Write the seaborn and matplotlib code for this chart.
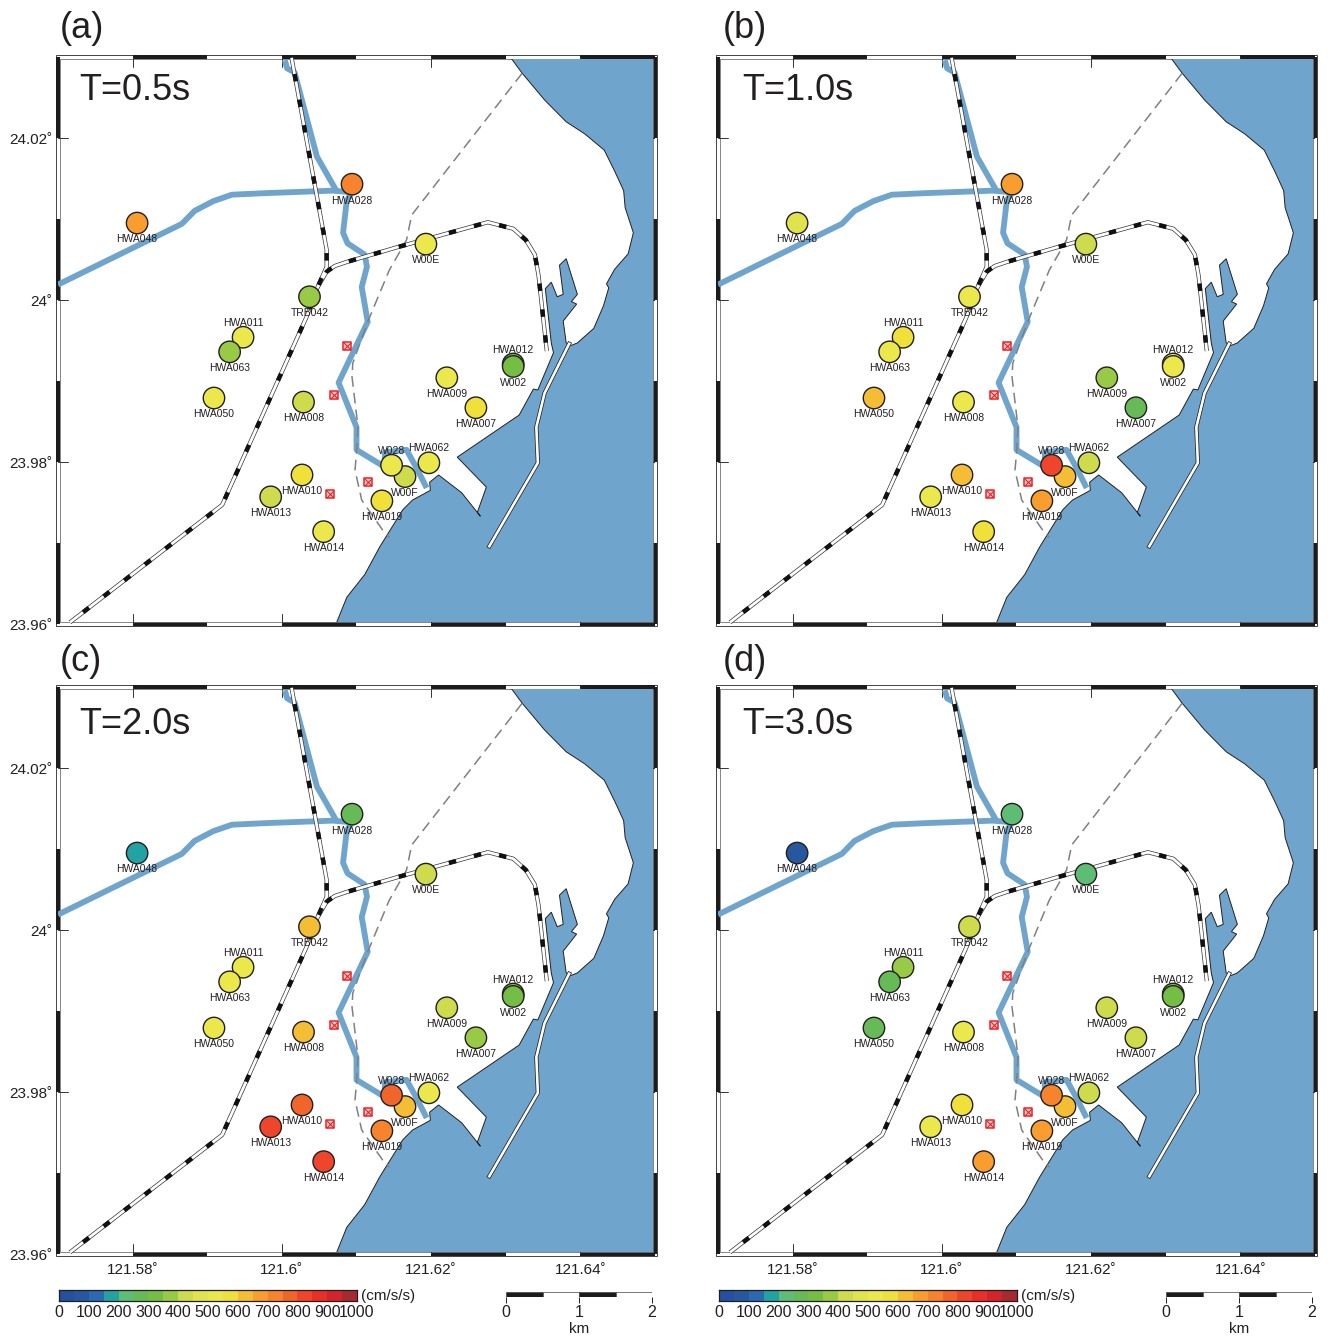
import logging
import numpy as np
import pandas as pd
import matplotlib
matplotlib.use("Agg")
import matplotlib.pyplot as plt
from matplotlib.colors import ListedColormap, BoundaryNorm
from matplotlib.patches import Rectangle, Polygon
import seaborn as sns

logging.getLogger("matplotlib.font_manager").setLevel(logging.ERROR)

# ---------- data ----------
stations = ["HWA048", "HWA028", "W00E", "TRB042", "HWA011", "HWA063", "HWA050", "HWA008", "HWA009",
            "HWA007", "HWA012", "W002", "W00F", "W028", "HWA062", "HWA010", "HWA013", "HWA014", "HWA019"]
st_lon = [121.5806, 121.6094, 121.6193, 121.6037, 121.5948, 121.5930, 121.5909, 121.6029, 121.6221,
          121.6260, 121.6310, 121.6310, 121.6165, 121.6147, 121.6197, 121.6027, 121.5985, 121.6056, 121.6134]
st_lat = [24.0095, 24.0143, 24.0069, 24.0004, 23.9954, 23.9936, 23.9879, 23.9874, 23.9904,
          23.9867, 23.9921, 23.9918, 23.9782, 23.9796, 23.9799, 23.9784, 23.9757, 23.9714, 23.9752]
labels_above = ["HWA011", "HWA012", "W028", "HWA062"]

pga_05 = [680, 730, 520, 370, 520, 370, 520, 420, 520, 570, 320, 320, 420, 520, 520, 570, 420, 520, 570]
pga_10 = [470, 680, 420, 520, 570, 520, 620, 520, 370, 270, 520, 520, 620, 830, 420, 620, 520, 570, 680]
pga_20 = [170, 270, 420, 620, 520, 520, 520, 620, 420, 370, 320, 320, 620, 770, 520, 770, 820, 820, 730]
pga_30 = [60, 210, 210, 420, 370, 270, 270, 520, 420, 420, 320, 320, 620, 730, 420, 570, 520, 680, 680]
periods = ["T=0.5s", "T=1.0s", "T=2.0s", "T=3.0s"]
panel_tags = ["(a)", "(b)", "(c)", "(d)"]

coast_lon = [121.6306, 121.6322, 121.6352, 121.6381, 121.6406, 121.6432, 121.6446, 121.6458, 121.6460, 121.6471,
             121.6464, 121.6446, 121.6435, 121.6438, 121.6431, 121.6418, 121.6396, 121.6388, 121.6381, 121.6377,
             121.6395, 121.6388, 121.6396, 121.6381, 121.6372, 121.6377, 121.6369, 121.6361, 121.6353, 121.6361,
             121.6364, 121.6343, 121.6337, 121.6318, 121.6235, 121.6274, 121.6262, 121.6266, 121.6241, 121.6210,
             121.6198, 121.6199, 121.6175, 121.6162, 121.6131, 121.6111, 121.6087, 121.6073, 121.6073, 121.65, 121.65]
coast_lat = [24.0300, 24.0280, 24.0247, 24.0220, 24.0205, 24.0185, 24.0159, 24.0135, 24.0114, 24.0083,
             24.0057, 24.0038, 24.0020, 24.0015, 23.9993, 23.9965, 23.9947, 23.9944, 23.9947, 23.9974,
             23.9995, 23.9998, 24.0007, 24.0051, 24.0043, 24.0007, 24.0004, 24.0022, 24.0014, 23.9947,
             23.9935, 23.9889, 23.9890, 23.9858, 23.9806, 23.9769, 23.9738, 23.9733, 23.9762, 23.9784,
             23.9775, 23.9765, 23.9753, 23.9741, 23.9695, 23.9661, 23.9633, 23.9601, 23.96, 23.96, 24.03]
pier_lon = [121.6385, 121.6352, 121.6341, 121.6343, 121.6278]
pier_lat = [23.9946, 23.9885, 23.9843, 23.9799, 23.9696]

river_west_lon = [121.57, 121.5866, 121.5883, 121.5908, 121.5933, 121.5980, 121.6068, 121.6094]
river_west_lat = [24.0019, 24.0094, 24.0110, 24.0122, 24.0130, 24.0132, 24.0135, 24.0133]
river_north_lon = [121.6004, 121.6007, 121.6017, 121.6047, 121.6073]
river_north_lat = [24.0296, 24.0286, 24.0281, 24.0177, 24.0135]
river_main_lon = [121.6094, 121.6087, 121.6082, 121.6088, 121.6111, 121.6114, 121.6107, 121.6115, 121.6076,
                  121.6100, 121.6100, 121.6134, 121.6147]
river_main_lat = [24.0133, 24.0123, 24.0083, 24.0070, 24.0056, 24.0041, 24.0016, 23.9973, 23.9898,
                  23.9843, 23.9815, 23.9796, 23.9795]
river_side_lon = [121.6138, 121.6138, 121.6167, 121.6182, 121.6194]
river_side_lat = [23.9796, 23.9812, 23.9815, 23.9790, 23.9768]

dash_lon = [121.6322, 121.6174, 121.6167, 121.6144, 121.6115, 121.6095, 121.6094, 121.6102, 121.6100, 121.6098,
            121.6107, 121.6135, 121.6144]
dash_lat = [24.0280, 24.0105, 24.0074, 24.0037, 23.9973, 23.9922, 23.9905, 23.9843, 23.9811, 23.9790,
            23.9753, 23.9716, 23.9707]

rail_a_lon = [121.6013, 121.6060, 121.6060, 121.6048, 121.6033, 121.5920, 121.5716]
rail_a_lat = [24.0299, 24.0062, 24.0041, 24.0016, 23.9979, 23.9747, 23.9602]
rail_b_lon = [121.6048, 121.6060, 121.6071, 121.6087, 121.6154, 121.6276, 121.6310, 121.6327, 121.6339, 121.6344, 121.6355]
rail_b_lat = [24.0016, 24.0035, 24.0042, 24.0047, 24.0065, 24.0096, 24.0088, 24.0074, 24.0056, 24.0030, 23.9937]

site_lon = [121.6087, 121.6070, 121.6116, 121.6065]
site_lat = [23.9943, 23.9883, 23.9775, 23.9760]

lon_ticks = [121.58, 121.60, 121.62, 121.64]
lon_tick_text = ["121.58˚", "121.6˚", "121.62˚", "121.64˚"]
lat_ticks = [23.96, 23.98, 24.00, 24.02]
lat_tick_text = ["23.96˚", "23.98˚", "24˚", "24.02˚"]

bin_edges = list(range(0, 1050, 50))
bin_colors = ["#24509f", "#27589f", "#2b69b3", "#21a3a4", "#5ebd75", "#66bb57", "#75be46", "#98ca45", "#cddb4c",
              "#dfe44d", "#ebe84c", "#efe13a", "#f5bd33", "#f99d2e", "#f7842c", "#f1652a", "#ef452a", "#ed2e26",
              "#d52429", "#a62a30"]
scale_km = [0, 0.5, 1.0, 1.5, 2.0]

# ---------- style ----------
sns.set_theme(style="white")
FONT = ["Liberation Sans", "DejaVu Sans"]
plt.rcParams["font.family"] = FONT
INK = "#231f20"
SEA = "#6fa5cd"
W, H = 1330, 1336

cmap = ListedColormap(bin_colors)
norm = BoundaryNorm(bin_edges, len(bin_colors))

fig = plt.figure(figsize=(W / 100, H / 100), dpi=100)
fig.patch.set_facecolor("white")


def px_axes(left, top, right, bottom):
    return fig.add_axes([left / W, 1 - bottom / H, (right - left) / W, (bottom - top) / H])


def frame(ax):
    x0, x1 = 121.57, 121.65
    y0, y1 = 23.96, 24.03
    tx, ty = 2.0 / 7470, 2.0 / 8100
    ax.add_patch(Rectangle((x0 - tx, y0 - ty), x1 - x0 + 2 * tx, y1 - y0 + 2 * ty, fc="white", ec="#444444",
                           lw=0.7, clip_on=False, zorder=5))
    for k in range(8):
        a = x0 + k * 0.01
        if k % 2 == 1:
            for yy in (y0, y1):
                ax.add_patch(Rectangle((a, yy - ty), 0.01, 2 * ty, fc="#1d1b1c", ec="none", clip_on=False, zorder=6))
    for k in range(7):
        b = y0 + k * 0.01
        if k % 2 == 0:
            for xx in (x0, x1):
                ax.add_patch(Rectangle((xx - tx, b), 2 * tx, 0.01, fc="#1d1b1c", ec="none", clip_on=False, zorder=6))


def draw_panel(ax, values):
    ax.set_xlim(121.57, 121.65)
    ax.set_ylim(23.96, 24.03)
    ax.set_facecolor("none")
    for s in ax.spines.values():
        s.set_visible(False)

    frame(ax)
    inner = (121.57 + 2 / 7470, 23.96 + 2 / 8100), 0.08 - 4 / 7470, 0.07 - 4 / 8100
    ax.add_patch(Rectangle(*inner, fc="white", ec="#555555", lw=0.5, clip_on=False, zorder=7))
    z = 8
    for t in lon_ticks:
        ax.plot([t, t], [23.96, 23.96 + 10 / 8100], color="#333333", lw=0.7, zorder=z)
        ax.plot([t, t], [24.03, 24.03 - 10 / 8100], color="#333333", lw=0.7, zorder=z)
    for t in lat_ticks:
        ax.plot([121.57, 121.57 + 10 / 7470], [t, t], color="#333333", lw=0.7, zorder=z)
        ax.plot([121.65, 121.65 - 10 / 7470], [t, t], color="#333333", lw=0.7, zorder=z)

    sea = Polygon(np.column_stack([coast_lon, coast_lat]), closed=True, fc=SEA, ec=INK, lw=0.7, zorder=9)
    ax.add_patch(sea)
    sea.set_clip_path(Rectangle(*inner, transform=ax.transData))
    ax.plot(pier_lon, pier_lat, color=INK, lw=3.0, solid_capstyle="projecting", solid_joinstyle="miter", zorder=10)
    ax.plot(pier_lon, pier_lat, color="white", lw=1.9, solid_capstyle="projecting", solid_joinstyle="miter", zorder=10.1)

    for lo, la in [(river_west_lon, river_west_lat), (river_north_lon, river_north_lat),
                   (river_main_lon, river_main_lat), (river_side_lon, river_side_lat)]:
        ax.plot(lo, la, color=SEA, lw=4.2, solid_capstyle="butt", solid_joinstyle="round", zorder=11)
    ax.plot(dash_lon, dash_lat, color="#808080", lw=1.1, ls=(0, (7, 4)), zorder=12)

    for lo, la in [(rail_a_lon, rail_a_lat), (rail_b_lon, rail_b_lat)]:
        ax.plot(lo, la, color="#333333", lw=3.0, solid_capstyle="butt", solid_joinstyle="round", zorder=13)
        ax.plot(lo, la, color="white", lw=2.0, solid_capstyle="butt", solid_joinstyle="round", zorder=13.1)
        ax.plot(lo, la, color="#111111", lw=3.2, ls=(8, (1.7, 4.15)), zorder=13.2)

    ax.scatter(site_lon, site_lat, marker="s", s=38, fc="#ffd0d0", ec="#ed2024", lw=1.1, zorder=14)
    ax.scatter(site_lon, site_lat, marker="x", s=28, c="#ed2024", lw=0.8, zorder=14.1)

    df = pd.DataFrame({"lon": st_lon, "lat": st_lat, "pga": values, "name": stations})
    sns.scatterplot(data=df, x="lon", y="lat", hue="pga", hue_norm=norm, palette=cmap, s=238, edgecolor=INK,
                    linewidth=1.0, legend=False, ax=ax, zorder=15, clip_on=False)
    for _, r in df.iterrows():
        off = 10.4 if r["name"] in labels_above else -11.8
        ax.annotate(r["name"], (r["lon"], r["lat"]), xytext=(0, off), textcoords="offset points", ha="center",
                    va="center", fontsize=7.5, color=INK, zorder=16)

    ax.set_xlabel("")
    ax.set_ylabel("")
    ax.set_xticks([])
    ax.set_yticks([])


panels = [(58, 57, pga_05), (718, 57, pga_10), (58, 687, pga_20), (718, 687, pga_30)]
for i, (lx, ty, vals) in enumerate(panels):
    ax = px_axes(lx, ty, lx + 597, ty + 567)
    draw_panel(ax, vals)
    shift_x = 0 if i % 2 == 0 else 3
    shift_y = 0 if i < 2 else 4
    fig.text((lx + 21 + shift_x) / W, 1 - (ty + 43 + shift_y) / H, periods[i], fontsize=26, color=INK,
             ha="left", va="baseline", zorder=20)
    fig.text((lx + 2 + shift_x) / W, 1 - (ty - 19 + shift_y * 0.75) / H, panel_tags[i], fontsize=26, color=INK,
             ha="left", va="baseline")
    if i >= 2:
        for t, s in zip(lon_ticks, lon_tick_text):
            ax.annotate(s, (t, 23.96), xytext=(0, -11.5), textcoords="offset points", ha="center", va="center",
                        fontsize=11, color=INK, annotation_clip=False)
    if i % 2 == 0:
        for t, s in zip(lat_ticks, lat_tick_text):
            ax.annotate(s, (121.57, t), xytext=(-4, -1.5), textcoords="offset points", ha="right", va="center",
                        fontsize=11, color=INK, annotation_clip=False)

# colour bars and scale bars
for lx in (59, 719):
    cax = px_axes(lx, 1290, lx + 298, 1301)
    cax.pcolormesh(bin_edges, [0, 1], np.array([np.array(bin_edges[:-1]) + 25]), cmap=cmap, norm=norm)
    cax.set_yticks([])
    cax.set_xlim(0, 1000)
    cax.set_xticks(list(range(0, 1001, 100)))
    cax.set_xticklabels([str(v) for v in range(0, 1001, 100)], fontsize=11.5, color=INK)
    cax.set_xticks(list(range(0, 1001, 10)), minor=True)
    cax.tick_params(axis="x", which="major", direction="in", length=5, width=0.7, color=INK, pad=3, bottom=True)
    cax.tick_params(axis="x", which="minor", direction="in", length=2.5, width=0.4, color=INK, bottom=True)
    for s in cax.spines.values():
        s.set_visible(True)
        s.set_color(INK)
        s.set_linewidth(0.9)
    fig.text((lx + 302) / W, 1 - 1296 / H, "(cm/s/s)", fontsize=11, color=INK, ha="left", va="center")

    sax = px_axes(lx + 447, 1292, lx + 593, 1297)
    for k in range(4):
        sax.add_patch(Rectangle((scale_km[k], 0), scale_km[k + 1] - scale_km[k], 1,
                                fc="#1d1b1c" if k % 2 == 0 else "white", ec="#444444", lw=0.5))
    sax.set_xlim(0, 2)
    sax.set_ylim(0, 1)
    sax.set_yticks([])
    sax.set_xticks([0, 1, 2])
    sax.set_xticklabels(["0", "1", "2"], fontsize=11.5, color=INK)
    sax.tick_params(axis="x", direction="out", length=4, width=0.7, color=INK, pad=1.5, bottom=True)
    sax.set_xlabel("km", fontsize=11, color=INK, labelpad=1.5)
    for s in sax.spines.values():
        s.set_visible(False)

fig.savefig("out.png", dpi=100)
